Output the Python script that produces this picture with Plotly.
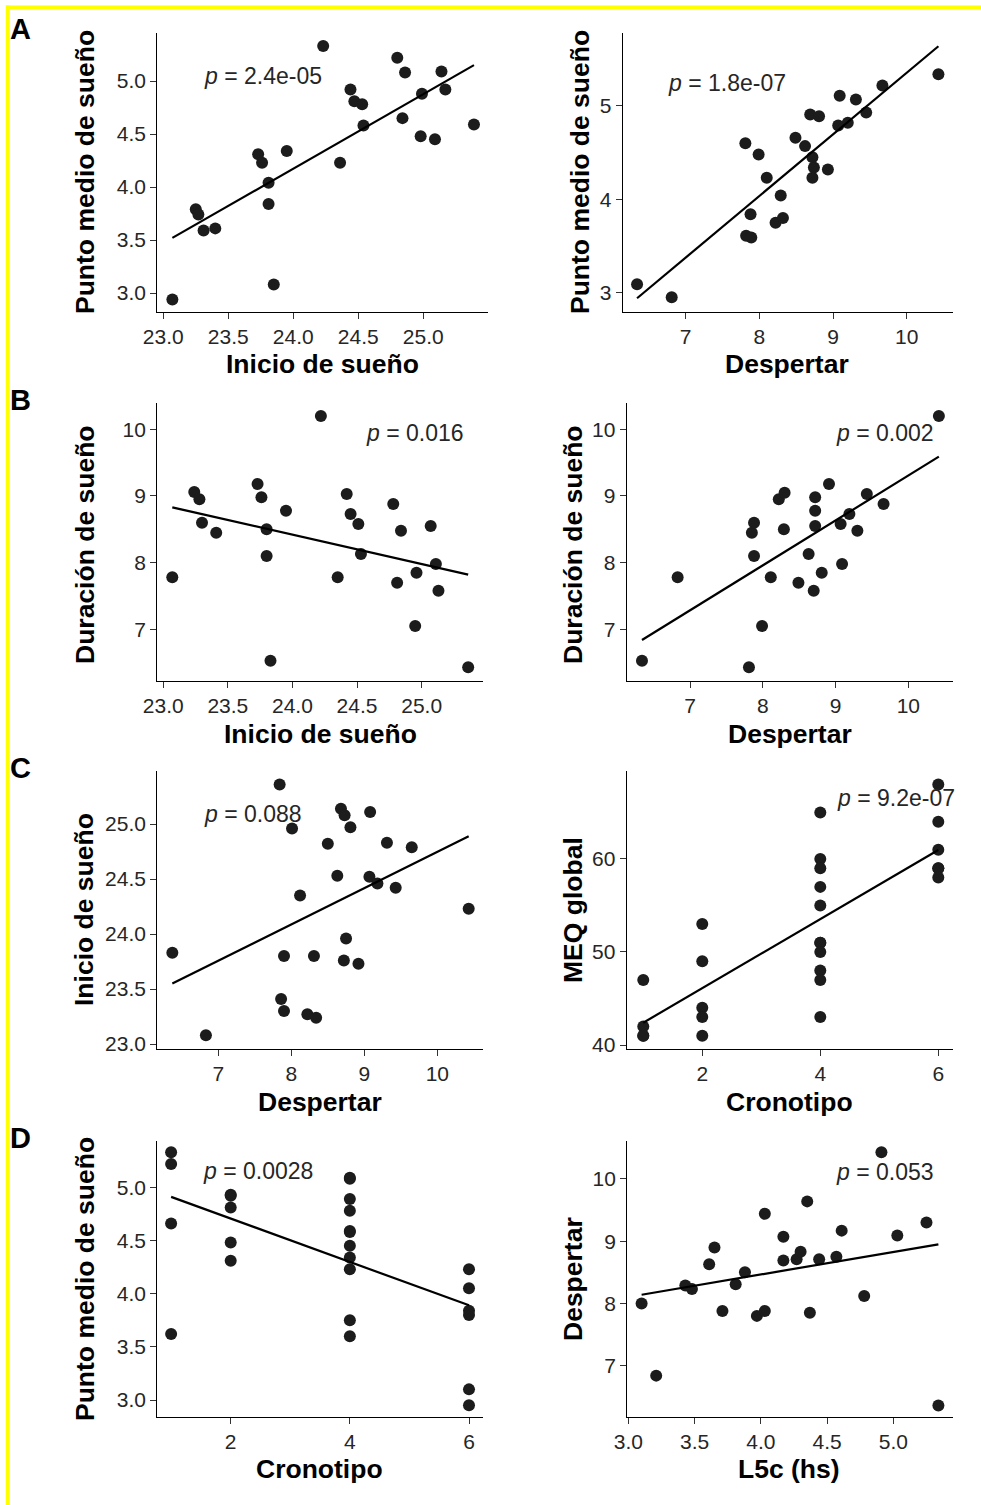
import plotly.graph_objects as go

W, H = 981, 1505

# ---------------- data ----------------
# Panel A (left): Inicio de sueño vs Punto medio de sueño
a1_inicio = [23.07, 23.25, 23.27, 23.31, 23.40, 23.73, 23.76, 23.81, 23.81, 23.85, 23.95, 24.23, 24.36,
             24.44, 24.47, 24.53, 24.54, 24.80, 24.86, 24.84, 24.98, 24.99, 25.09, 25.14, 25.17, 25.39]
a1_medio = [2.94, 3.79, 3.74, 3.59, 3.61, 4.31, 4.23, 4.04, 3.84, 3.08, 4.34, 5.33, 4.23,
            4.92, 4.81, 4.78, 4.58, 5.22, 5.08, 4.65, 4.48, 4.88, 4.45, 5.09, 4.92, 4.59]
a1_fit_x = [23.07, 25.39]
a1_fit_y = [3.52, 5.15]
a1_p = "2.4e-05"

# Panel A (right): Despertar vs Punto medio de sueño
a2_despertar = [6.34, 6.81, 7.81, 7.99, 8.10, 7.88, 7.82, 7.89, 8.22, 8.32, 8.29, 8.49, 8.62,
                8.69, 8.81, 8.72, 8.74, 8.72, 8.93, 9.09, 9.07, 9.20, 9.31, 9.45, 9.67, 10.43]
a2_medio = [3.09, 2.95, 4.60, 4.48, 4.23, 3.84, 3.61, 3.59, 3.75, 3.80, 4.04, 4.66, 4.57,
            4.91, 4.89, 4.45, 4.34, 4.23, 4.32, 5.11, 4.79, 4.82, 5.07, 4.93, 5.22, 5.34]
a2_fit_x = [6.34, 10.43]
a2_fit_y = [2.94, 5.64]
a2_p = "1.8e-07"

# Panel B (left): Inicio de sueño vs Duración de sueño
b1_inicio = [23.07, 23.24, 23.28, 23.30, 23.41, 23.73, 23.76, 23.80, 23.80, 23.83, 23.95, 24.22, 24.35,
             24.42, 24.45, 24.51, 24.53, 24.78, 24.81, 24.84, 24.95, 24.96, 25.07, 25.11, 25.13, 25.36]
b1_duracion = [7.78, 9.06, 8.95, 8.60, 8.45, 9.18, 8.98, 8.50, 8.10, 6.53, 8.78, 10.20, 7.78,
               9.03, 8.73, 8.58, 8.13, 8.88, 7.70, 8.48, 7.05, 7.85, 8.55, 7.98, 7.58, 6.43]
b1_fit_x = [23.07, 25.36]
b1_fit_y = [8.83, 7.82]
b1_p = "0.016"

# Panel B (right): Despertar vs Duración de sueño
b2_despertar = [6.34, 6.83, 7.81, 7.85, 7.88, 7.88, 7.99, 8.11, 8.22, 8.30, 8.29, 8.49, 8.63,
                8.70, 8.72, 8.72, 8.72, 8.81, 8.91, 9.07, 9.09, 9.19, 9.30, 9.43, 9.66, 10.42]
b2_duracion = [6.53, 7.78, 6.43, 8.45, 8.60, 8.10, 7.05, 7.78, 8.95, 9.05, 8.50, 7.70, 8.13,
               7.58, 8.98, 8.78, 8.55, 7.85, 9.18, 8.58, 7.98, 8.73, 8.48, 9.03, 8.88, 10.20]
b2_fit_x = [6.34, 10.42]
b2_fit_y = [6.84, 9.59]
b2_p = "0.002"

# Panel C (left): Despertar vs Inicio de sueño
c1_despertar = [6.37, 6.83, 7.84, 8.01, 8.12, 7.90, 7.86, 7.90, 8.22, 8.34, 8.31, 8.50, 8.63,
                8.68, 8.73, 8.81, 8.75, 8.72, 8.92, 9.08, 9.07, 9.18, 9.31, 9.43, 9.65, 10.43]
c1_inicio = [23.83, 23.08, 25.36, 24.96, 24.35, 23.80, 23.41, 23.30, 23.27, 23.24, 23.80, 24.82, 24.53,
             25.14, 25.08, 24.97, 23.96, 23.76, 23.73, 25.11, 24.52, 24.46, 24.83, 24.42, 24.79, 24.23]
c1_fit_x = [6.37, 10.43]
c1_fit_y = [23.55, 24.89]
c1_p = "0.088"

# Panel C (right): Cronotipo vs MEQ global
c2_cronotipo = [1, 1, 1, 1, 2, 2, 2, 2, 2, 4, 4, 4, 4, 4, 4, 4, 4, 4, 4, 4, 6, 6, 6, 6, 6, 6]
c2_meq = [47, 42, 41, 41, 53, 49, 44, 43, 41, 65, 60, 59, 57, 55, 51, 51, 50, 48, 47, 43,
          68, 64, 61, 59, 59, 58]
c2_fit_x = [1, 6]
c2_fit_y = [42.4, 60.96]
c2_p = "9.2e-07"

# Panel D (left): Cronotipo vs Punto medio de sueño
d1_cronotipo = [1, 1, 1, 1, 2, 2, 2, 2, 2, 4, 4, 4, 4, 4, 4, 4, 4, 4, 4, 4, 6, 6, 6, 6, 6, 6]
d1_medio = [5.33, 5.22, 4.66, 3.62, 4.93, 4.92, 4.81, 4.48, 4.31, 5.09, 5.08, 4.89, 4.78, 4.59, 4.58,
            4.45, 4.34, 4.23, 3.75, 3.60, 4.23, 4.05, 3.84, 3.80, 3.10, 2.95]
d1_fit_x = [1, 6]
d1_fit_y = [4.91, 3.89]
d1_p = "0.0028"

# Panel D (right): L5c (hs) vs Despertar
d2_l5c = [3.10, 3.21, 3.43, 3.48, 3.61, 3.65, 3.71, 3.81, 3.88, 3.97, 4.03, 4.03, 4.17,
          4.17, 4.27, 4.30, 4.35, 4.37, 4.44, 4.57, 4.61, 4.78, 4.91, 5.03, 5.25, 5.34]
d2_despertar = [8.00, 6.84, 8.29, 8.23, 8.63, 8.90, 7.88, 8.31, 8.50, 7.80, 7.88, 9.44, 9.07,
                8.69, 8.71, 8.83, 9.64, 7.85, 8.71, 8.75, 9.17, 8.12, 10.43, 9.09, 9.30, 6.36]
d2_fit_x = [3.10, 5.34]
d2_fit_y = [8.14, 8.95]
d2_p = "0.053"

# tick labels
t_inicio_x = ["23.0", "23.5", "24.0", "24.5", "25.0"]
t_desp = ["7", "8", "9", "10"]
t_medio_a = ["3.0", "3.5", "4.0", "4.5", "5.0"]
t_medio_b = ["3", "4", "5"]
t_dur = ["7", "8", "9", "10"]
t_crono = ["2", "4", "6"]
t_meq = ["40", "50", "60"]
t_l5c = ["3.0", "3.5", "4.0", "4.5", "5.0"]

panel_labels = ["A", "B", "C", "D"]

# ---------------- figure ----------------
FONT = "Liberation Sans, Arial, Helvetica, sans-serif"
TICK_FONT = dict(family=FONT, size=21, color="#262626")
TITLE_FONT = dict(family=FONT, size=26.5, color="#000000", weight="bold")
P_FONT = dict(family=FONT, size=23, color="#262626")


def px_x(p):
    return p / W


def px_y(p):
    return 1 - p / H


fig = go.Figure()

panels = [
    dict(x=a1_inicio, y=a1_medio, fx=a1_fit_x, fy=a1_fit_y, p=a1_p,
         xd=(157.3, 488), yd=(33, 311.7), xr=(22.954, 25.498), yr=(2.824, 5.453),
         xtv=[float(t) for t in t_inicio_x], xtt=t_inicio_x,
         ytv=[float(t) for t in t_medio_a], ytt=t_medio_a,
         xt="Inicio de sueño", yt="Punto medio de sueño",
         xtp=(322.5, 364), ytp=(85, 172), pp=(23.295, 5.047)),
    dict(x=a2_despertar, y=a2_medio, fx=a2_fit_x, fy=a2_fit_y, p=a2_p,
         xd=(622.7, 952.7), yd=(33, 311.7), xr=(6.145, 10.624), yr=(2.796, 5.782),
         xtv=[float(t) for t in t_desp], xtt=t_desp,
         ytv=[float(t) for t in t_medio_b], ytt=t_medio_b,
         xt="Despertar", yt="Punto medio de sueño",
         xtp=(786.5, 364), ytp=(580, 172), pp=(6.733, 5.25)),
    dict(x=b1_inicio, y=b1_duracion, fx=b1_fit_x, fy=b1_fit_y, p=b1_p,
         xd=(157.3, 483.3), yd=(402.7, 681), xr=(22.954, 25.477), yr=(6.225, 10.399),
         xtv=[float(t) for t in t_inicio_x], xtt=t_inicio_x,
         ytv=[float(t) for t in t_dur], ytt=t_dur,
         xt="Inicio de sueño", yt="Duración de sueño",
         xtp=(320, 734), ytp=(85, 545), pp=(24.556, 9.94)),
    dict(x=b2_despertar, y=b2_duracion, fx=b2_fit_x, fy=b2_fit_y, p=b2_p,
         xd=(626.7, 952.7), yd=(402.7, 681), xr=(6.130, 10.610), yr=(6.225, 10.399),
         xtv=[float(t) for t in t_desp], xtt=t_desp,
         ytv=[float(t) for t in t_dur], ytt=t_dur,
         xt="Despertar", yt="Duración de sueño",
         xtp=(789.5, 734), ytp=(573, 545), pp=(8.983, 9.94)),
    dict(x=c1_despertar, y=c1_inicio, fx=c1_fit_x, fy=c1_fit_y, p=c1_p,
         xd=(157.3, 482.7), yd=(770.7, 1049), xr=(6.164, 10.622), yr=(22.955, 25.485),
         xtv=[float(t) for t in t_desp], xtt=t_desp,
         ytv=[float(t) for t in t_inicio_x], ytt=t_inicio_x,
         xt="Despertar", yt="Inicio de sueño",
         xtp=(320, 1102), ytp=(84, 910), pp=(6.773, 25.091)),
    dict(x=c2_cronotipo, y=c2_meq, fx=c2_fit_x, fy=c2_fit_y, p=c2_p,
         xd=(626.7, 952.7), yd=(770.7, 1049), xr=(0.719, 6.244), yr=(39.57, 69.49),
         xtv=[float(t) for t in t_crono], xtt=t_crono,
         ytv=[float(t) for t in t_meq], ytt=t_meq,
         xt="Cronotipo", yt="MEQ global",
         xtp=(789, 1102), ytp=(573, 910), pp=(4.249, 66.53)),
    dict(x=d1_cronotipo, y=d1_medio, fx=d1_fit_x, fy=d1_fit_y, p=d1_p,
         xd=(157.3, 482.7), yd=(1140.7, 1416.7), xr=(0.768, 6.23), yr=(2.843, 5.438),
         xtv=[float(t) for t in t_crono], xtt=t_crono,
         ytv=[float(t) for t in t_medio_a], ytt=t_medio_a,
         xt="Cronotipo", yt="Punto medio de sueño",
         xtp=(319.5, 1469), ytp=(85, 1279), pp=(1.496, 5.156)),
    dict(x=d2_l5c, y=d2_despertar, fx=d2_fit_x, fy=d2_fit_y, p=d2_p,
         xd=(627.3, 952.7), yd=(1140.7, 1416.7), xr=(2.992, 5.448), yr=(6.18, 10.615),
         xtv=[float(t) for t in t_l5c], xtt=t_l5c,
         ytv=[float(t) for t in t_dur], ytt=t_dur,
         xt="L5c (hs)", yt="Despertar",
         xtp=(789, 1469), ytp=(573, 1279), pp=(4.555, 10.117)),
]

annotations = []
for i, pn in enumerate(panels, start=1):
    xa = "x" if i == 1 else f"x{i}"
    ya = "y" if i == 1 else f"y{i}"
    xkey = "xaxis" if i == 1 else f"xaxis{i}"
    ykey = "yaxis" if i == 1 else f"yaxis{i}"

    fig.add_trace(go.Scatter(
        x=pn["x"], y=pn["y"], mode="markers", xaxis=xa, yaxis=ya,
        marker=dict(size=12, color="#1c1c1c", line=dict(width=0)),
        showlegend=False, hoverinfo="x+y"))
    fig.add_trace(go.Scatter(
        x=pn["fx"], y=pn["fy"], mode="lines", xaxis=xa, yaxis=ya,
        line=dict(color="#000000", width=2.2), showlegend=False, hoverinfo="skip"))

    axis_common = dict(showline=True, linecolor="#000000", linewidth=1.3,
                       showgrid=False, zeroline=False, ticks="outside",
                       ticklen=6, tickwidth=1.2, tickcolor="#333333",
                       tickfont=TICK_FONT, fixedrange=True, automargin=False)
    fig.update_layout({
        xkey: dict(domain=[px_x(pn["xd"][0]), px_x(pn["xd"][1])], anchor=ya,
                   range=list(pn["xr"]), tickvals=pn["xtv"], ticktext=pn["xtt"],
                   **axis_common),
        ykey: dict(domain=[px_y(pn["yd"][1]), px_y(pn["yd"][0])], anchor=xa,
                   range=list(pn["yr"]), tickvals=pn["ytv"], ticktext=pn["ytt"],
                   **axis_common),
    })

    annotations.append(dict(
        x=pn["pp"][0], y=pn["pp"][1], xref=xa, yref=ya,
        text=f"<i>p</i> = {pn['p']}", showarrow=False,
        xanchor="left", yanchor="middle", font=P_FONT))
    annotations.append(dict(
        x=px_x(pn["xtp"][0]), y=px_y(pn["xtp"][1]), xref="paper", yref="paper",
        text=pn["xt"], showarrow=False, xanchor="center", yanchor="middle",
        font=TITLE_FONT))
    annotations.append(dict(
        x=px_x(pn["ytp"][0]), y=px_y(pn["ytp"][1]), xref="paper", yref="paper",
        text=pn["yt"], showarrow=False, xanchor="center", yanchor="middle",
        textangle=-90, font=TITLE_FONT))

label_y_px = [29, 400, 768, 1138]
for lab, ypx in zip(panel_labels, label_y_px):
    annotations.append(dict(
        x=px_x(20), y=px_y(ypx), xref="paper", yref="paper", text=lab,
        showarrow=False, xanchor="center", yanchor="middle",
        font=dict(family=FONT, size=29, color="#000000", weight="bold")))

# yellow frame (top and left edges only, as in the reference)
frame = [
    dict(type="line", xref="paper", yref="paper", x0=px_x(6), x1=1, y0=px_y(7.5), y1=px_y(7.5),
         line=dict(color="#FFFF00", width=4), layer="above"),
    dict(type="line", xref="paper", yref="paper", x0=px_x(7.8), x1=px_x(7.8), y0=0, y1=px_y(5.5),
         line=dict(color="#FFFF00", width=4), layer="above"),
]

fig.update_layout(
    width=W, height=H, autosize=False,
    margin=dict(l=0, r=0, t=0, b=0, pad=0),
    paper_bgcolor="#ffffff", plot_bgcolor="#ffffff",
    annotations=annotations,
    shapes=frame,
)

fig.write_html(
    "out.html",
    config={"displayModeBar": False},
    post_script="document.body.style.margin='0';document.body.style.padding='0';"
                "document.documentElement.style.overflow='hidden';",
)
